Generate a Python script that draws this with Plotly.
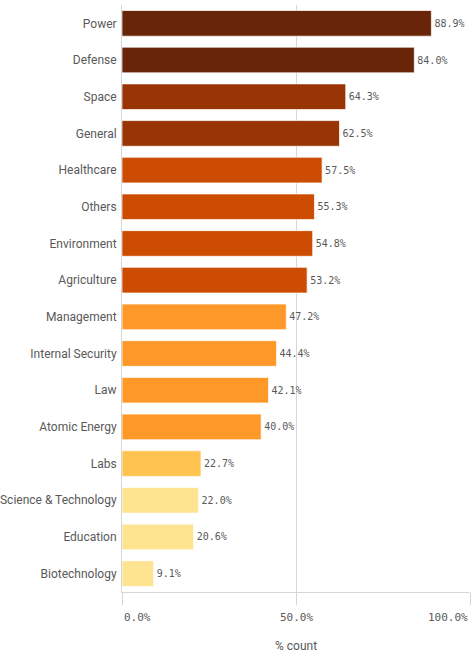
import plotly.graph_objects as go

categories = ["Power", "Defense", "Space", "General", "Healthcare", "Others",
              "Environment", "Agriculture", "Management", "Internal Security",
              "Law", "Atomic Energy", "Labs", "Science & Technology",
              "Education", "Biotechnology"]
values = [88.9, 84.0, 64.3, 62.5, 57.5, 55.3, 54.8, 53.2, 47.2, 44.4,
          42.1, 40.0, 22.7, 22.0, 20.6, 9.1]
bar_colors = ["#692508", "#692508", "#993404", "#993404", "#cc4c02", "#cc4c02",
              "#cc4c02", "#cc4c02", "#fe9929", "#fe9929", "#fe9929", "#fe9929",
              "#fec44f", "#fee391", "#fee391", "#fee391"]
tick_vals = [0, 50, 100]
tick_text = ["0.0%", "50.0%", "100.0%"]

LABEL = "#595959"
GRID = "#d6d6d6"
MONO = "DejaVu Sans Mono, monospace"

fig = go.Figure(go.Bar(
    y=categories, x=values,
    orientation="h",
    marker_color=bar_colors,
    marker_line_color="rgba(255,255,255,0.7)",
    marker_line_width=1,
    text=[f"{v:.1f}%" for v in values],
    textposition="outside",
    textfont=dict(size=10, color=LABEL, family=MONO),
    cliponaxis=False,
    hovertemplate="%{y}: %{x:.1f}%<extra></extra>",
))

# tick labels: left / centre / right aligned like the original
anchors = ["left", "center", "right"]
for v, t, a in zip(tick_vals, tick_text, anchors):
    fig.add_annotation(x=v, y=-0.043, xref="x", yref="paper", text=t,
                       showarrow=False, xanchor=a, yanchor="middle",
                       font=dict(size=11, color=LABEL, family=MONO))
fig.add_annotation(x=50, y=-0.092, xref="x", yref="paper", text="% count",
                   showarrow=False, xanchor="center", yanchor="middle",
                   font=dict(size=12, color=LABEL, family="Roboto, sans-serif"))

fig.update_layout(
    width=471, height=657,
    paper_bgcolor="white", plot_bgcolor="white",
    margin=dict(l=122, r=1, t=5, b=65),
    bargap=0.3,
    showlegend=False,
    font=dict(family="Roboto, sans-serif", color=LABEL),
    xaxis=dict(range=[0, 100], tickvals=tick_vals, showticklabels=False,
               showgrid=True, gridcolor=GRID, gridwidth=1,
               ticks="outside", ticklen=12, tickcolor=GRID,
               showline=True, linecolor=GRID, linewidth=1,
               zeroline=False, automargin=False, fixedrange=True),
    yaxis=dict(autorange="reversed", showgrid=False,
               showline=True, linecolor=GRID, linewidth=1,
               ticks="", ticklabelstandoff=2,
               tickfont=dict(size=12, color=LABEL),
               automargin=False, fixedrange=True),
)

# drop the default 8px page margin so the figure fills the window exactly
fig.write_html("out.html", config={"displayModeBar": False},
               post_script="document.body.style.margin='0';document.body.style.overflow='hidden';")
